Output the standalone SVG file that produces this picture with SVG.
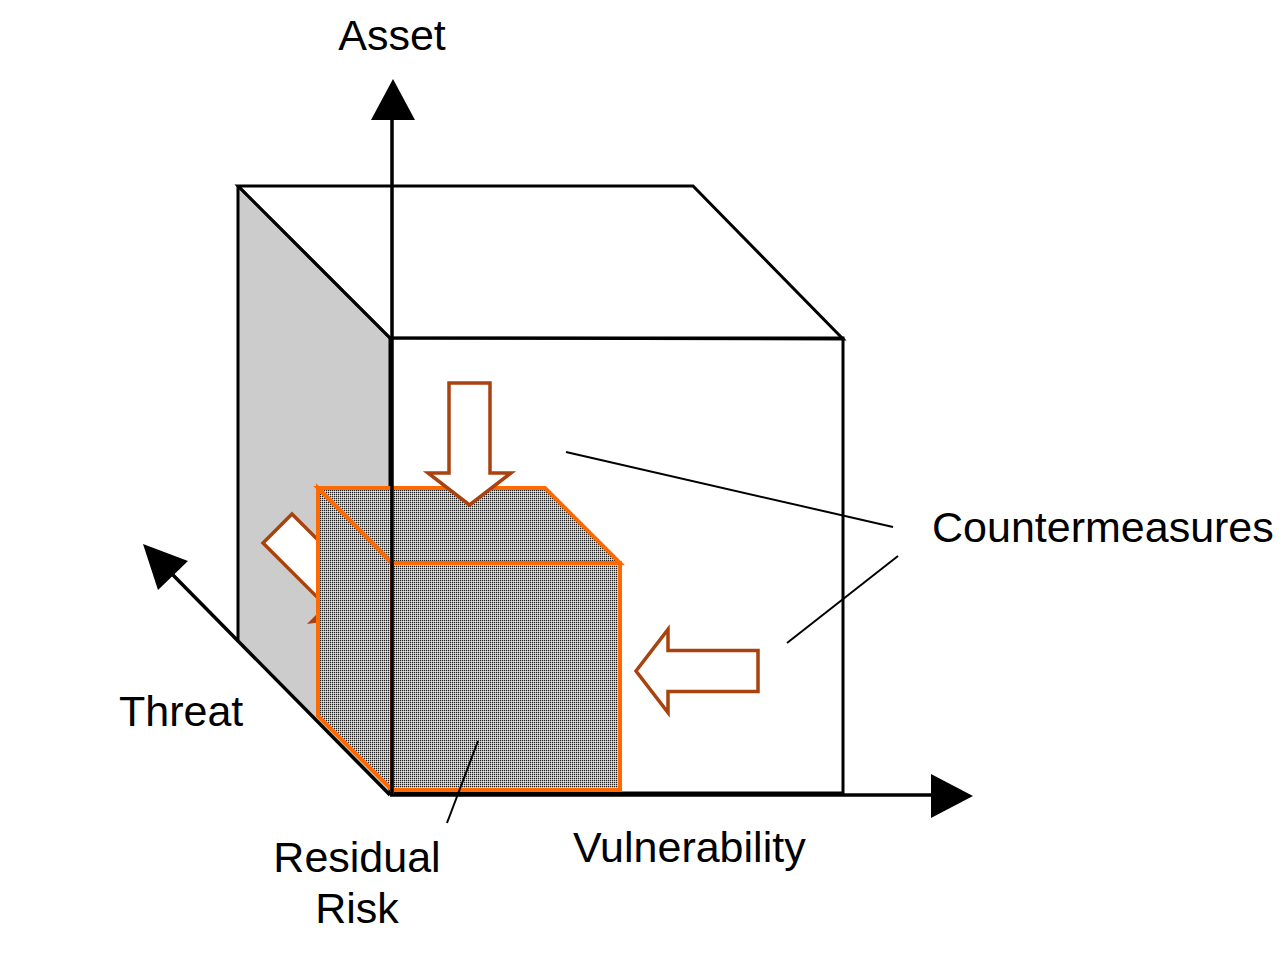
<svg xmlns="http://www.w3.org/2000/svg" width="1288" height="961" viewBox="0 0 1288 961">
  <defs>
    <pattern id="dots" width="2" height="2" patternUnits="userSpaceOnUse">
      <rect width="2" height="2" fill="#b2b2b2"/>
      <rect width="1" height="1" fill="#202020"/>
      <rect x="1" y="1" width="1" height="1" fill="#e8e8e8"/>
    </pattern>
    <polygon id="cmArrow" points="-20.5,0 20.5,0 20.5,90 41.5,90 0,122 -41.5,90 -20.5,90"/>
  </defs>
  <style>
    .edge { fill: none; stroke: #000; stroke-width: 3; stroke-linejoin: miter; }
    .axis { fill: none; stroke: #000; stroke-width: 3.5; }
    .head { fill: #000; stroke: none; }
    .lead { fill: none; stroke: #000; stroke-width: 2; }
    .cm { fill: #fff; stroke: #a8430f; stroke-width: 3.5; stroke-linejoin: miter; }
    .rr { fill: url(#dots); stroke: #ff6a00; stroke-width: 4; stroke-linejoin: miter; }
    .lbl { font-family: "Liberation Sans", Arial, sans-serif; font-size: 43px; fill: #000; }
  </style>

  <g id="big-cube">
    <polygon points="238,186 390,338 390,793 238,640" fill="#cccccc" stroke="none"/>
    <polygon class="edge" points="238,186 693,186 843,339 390,338"/>
    <rect class="edge" x="390" y="338" width="453" height="455"/>
    <line class="edge" x1="238" y1="186" x2="238" y2="640"/>
    <line class="edge" x1="238" y1="186" x2="390" y2="338"/>
  </g>

  <g id="axes">
    <line class="axis" x1="390" y1="795" x2="173" y2="575"/>
    <polygon class="head" points="143,544 158,590 188,561"/>
    <line class="axis" x1="931" y1="795" x2="390" y2="795"/>
    <polygon class="head" points="973,796 931,774 931,818"/>
  </g>

  <g id="countermeasure-threat">
    <use href="#cmArrow" class="cm" transform="translate(277.5,528.5) rotate(-45)"/>
  </g>

  <g id="residual-risk">
    <polygon class="rr" points="318,488 392,563 392,790 318,716"/>
    <polygon class="rr" points="318,488 545,488 620,563 392,563"/>
    <rect class="rr" x="392" y="563" width="228" height="227"/>
  </g>

  <g id="asset-axis">
    <line class="axis" x1="392" y1="795" x2="392" y2="118"/>
    <polygon class="head" points="393,79 371,120 415,120"/>
  </g>

  <g id="countermeasure-asset">
    <use href="#cmArrow" class="cm" transform="translate(469.5,383)"/>
  </g>

  <g id="countermeasure-vulnerability">
    <use href="#cmArrow" class="cm" transform="translate(758,671) rotate(90)"/>
  </g>

  <g id="connectors">
    <line class="lead" x1="566" y1="452" x2="893" y2="527"/>
    <line class="lead" x1="898" y1="556" x2="787" y2="643"/>
    <line class="lead" x1="478" y1="741" x2="447" y2="823"/>
  </g>

  <g id="labels">
    <text class="lbl" x="392" y="50" text-anchor="middle">Asset</text>
    <text class="lbl" x="932" y="542">Countermeasures</text>
    <text class="lbl" x="119" y="726">Threat</text>
    <text class="lbl" x="573" y="862">Vulnerability</text>
    <text class="lbl" x="357" y="872" text-anchor="middle">Residual</text>
    <text class="lbl" x="357" y="923" text-anchor="middle">Risk</text>
  </g>
</svg>
